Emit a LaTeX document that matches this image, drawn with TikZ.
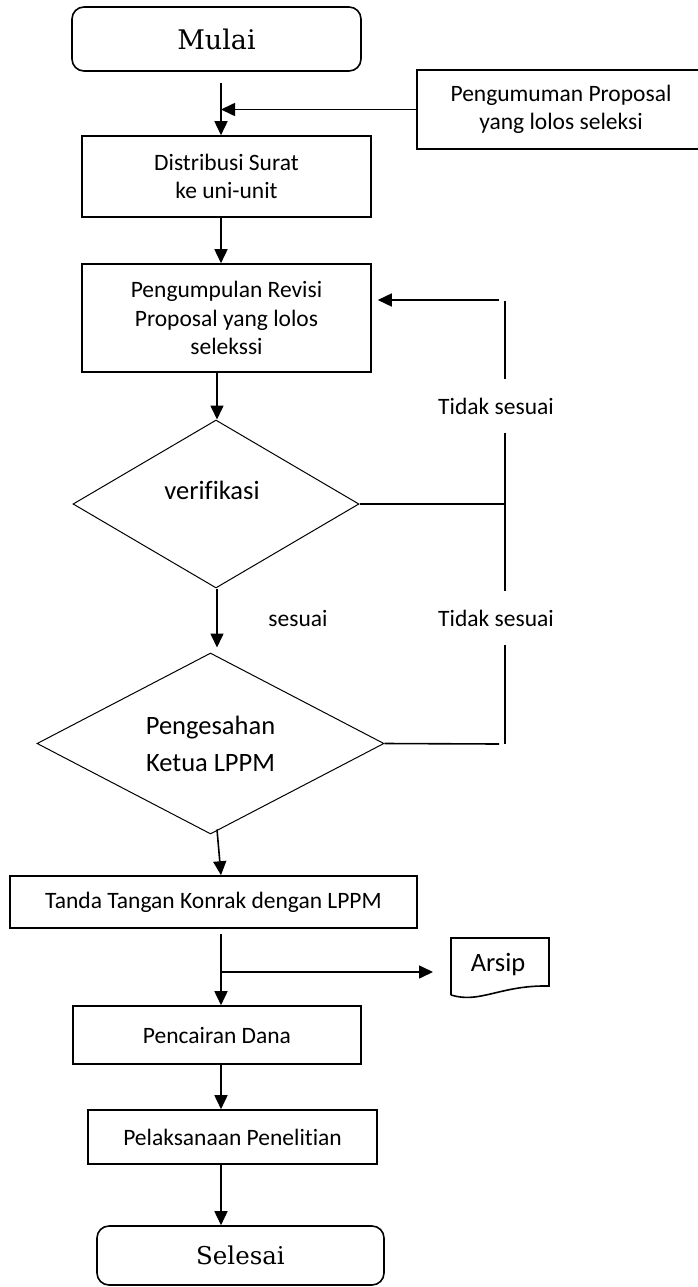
\documentclass[tikz,border=0pt]{standalone}
\usepackage{fontspec}
\setmainfont{Carlito}[Ligatures=CommonOff]
\newfontfamily\termfamily{DejaVu Serif}
\usetikzlibrary{arrows.meta,shapes.geometric}
\newcommand{\boxtxt}{\fontsize{23.5}{28.5}\selectfont}
\newcommand{\dectxt}{\fontsize{26.5}{37}\selectfont}
\newcommand{\termtxt}{\termfamily\fontsize{24.5}{29}\selectfont}
\newcommand{\starttxt}{\termfamily\fontsize{27}{32}\selectfont}
\begin{document}
\begin{tikzpicture}[x=1pt,y=-1pt,
  box/.style={draw, line width=1.6pt, inner sep=0pt, align=center, font=\boxtxt},
  terminal/.style={box, rounded corners=12pt, font=\termtxt},
  decision/.style={draw, shape=diamond, aspect=1.8, inner sep=0pt, line width=1pt, align=center, font=\dectxt},
  lbl/.style={inner sep=0pt, font=\boxtxt},
  flow/.style={line width=1.6pt, -{Triangle[length=14pt,width=13pt]}},
  rail/.style={line width=1.6pt}]
\useasboundingbox (0,0) rectangle (697,1287);

% process steps
\node[terminal, minimum width=289pt, minimum height=64pt, font=\starttxt] (mulai) at (216.5,39) {Mulai};
\node[box, minimum width=288pt, minimum height=79pt] (pengumuman) at (561,109.5) {Pengumuman Proposal\\yang lolos seleksi};
\node[box, minimum width=289pt, minimum height=81pt] (distribusi) at (226.5,176.5) {Distribusi Surat\\ke uni-unit};
\node[box, minimum width=289pt, minimum height=108pt] (pengumpulan) at (226.5,318) {Pengumpulan Revisi\\Proposal yang lolos\\selekssi};
\node[decision, minimum width=286pt, minimum height=168pt] (verifikasi) at (216,504) {};
\node[inner sep=0pt, font=\dectxt] (verifikasi-text) at (212,490) {verifikasi};
\node[decision, minimum width=347pt, minimum height=181pt] (pengesahan) at (210.5,743.5) {Pengesahan\\Ketua LPPM};
\node[box, minimum width=407pt, minimum height=52pt] (tanda) at (213.5,902) {Tanda Tangan Konrak dengan LPPM};
\node[box, minimum width=288pt, minimum height=58pt] (pencairan) at (217,1035) {Pencairan Dana};
\node[box, minimum width=289pt, minimum height=54pt] (pelaksanaan) at (232.5,1137) {Pelaksanaan Penelitian};
\node[terminal, minimum width=287pt, minimum height=59pt] (selesai) at (240.5,1255.5) {Selesai};

% archive document
\node[inner sep=0pt, font=\dectxt] (arsip) at (498,965) {Arsip};
\draw[line width=1.6pt] (451,995) -- (451,938) -- (549,938) -- (549,986)
  .. controls (500,985) and (480,1004) .. (451,995);

% branch labels
\node[lbl, minimum height=53pt] (tidak1) at (496,406) {Tidak sesuai};
\node[lbl, minimum height=53pt] (tidak2) at (496,618) {Tidak sesuai};
\node[lbl] (sesuai) at (298,618) {sesuai};

% main flow
\coordinate (axis) at (221,0);
\coordinate (axis2) at (217,0);
\draw[flow] ([yshift=-11pt]mulai.south -| axis) -- (distribusi.north -| axis);
\draw[flow] (pengumuman.west) -- (pengumuman.west -| axis);
\draw[flow] (distribusi.south -| axis) -- (pengumpulan.north -| axis);
\draw[flow] (pengumpulan.south -| axis2) -- (verifikasi.north -| axis2);
\draw[flow] (verifikasi.south -| axis2) -- ([yshift=5pt]pengesahan.north -| axis2);
\draw[flow] ([yshift=5pt]pengesahan.south -| axis2) -- (tanda.north -| axis);
\draw[flow] ([yshift=-5pt]tanda.south -| axis) -- (pencairan.north -| axis);
\coordinate (branch) at (221,972);
\coordinate (arsip-in) at (433,972);
\draw[flow] (branch) -- (arsip-in);
\draw[flow] (pencairan.south -| axis) -- (pelaksanaan.north -| axis);
\draw[flow] (pelaksanaan.south -| axis) -- (selesai.north -| axis);

% return path for rejected proposals
\coordinate (rail-top) at (505,301);
\coordinate (rail-bottom) at (505,744);
\coordinate (back-in) at (499,300);
\draw[flow] (back-in) -- ([xshift=6pt]pengumpulan.east |- back-in);
\draw[rail] (rail-top) -- (tidak1.north -| rail-top);
\draw[rail] (tidak1.south -| rail-top) -- (tidak2.north -| rail-top);
\draw[rail] (verifikasi.east) -- (verifikasi.east -| rail-top);
\draw[rail] (tidak2.south -| rail-top) -- (rail-bottom);
\draw[rail] (pengesahan.east) -- ([xshift=-6pt]rail-bottom);
\end{tikzpicture}
\end{document}
